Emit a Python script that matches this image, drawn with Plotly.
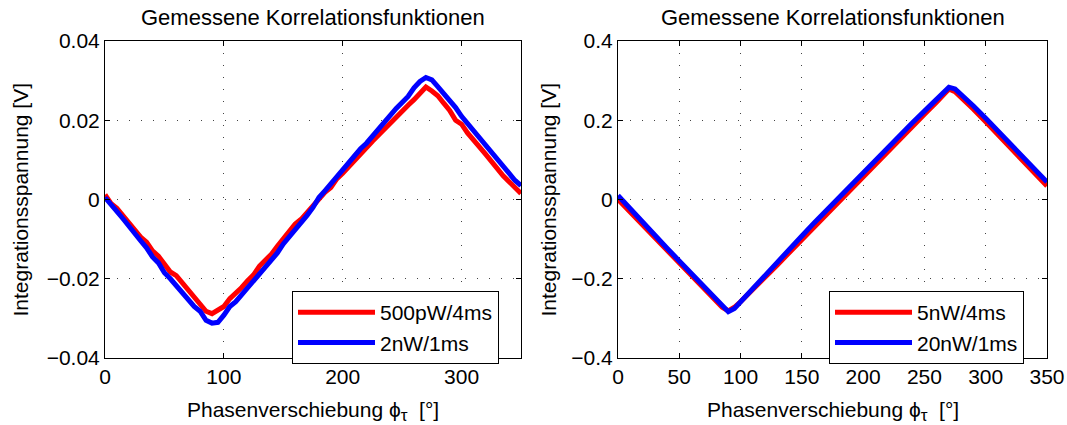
import plotly.graph_objects as go

# ---------------- data ----------------
phase_left = list(range(0, 351, 5))
red_left = [0.0012, -0.0010, -0.0022, -0.0040, -0.0058, -0.0074, -0.0095, -0.0108, -0.0130, -0.0143,
            -0.0165, -0.0183, -0.0192, -0.0210, -0.0232, -0.0247, -0.0264, -0.0282, -0.0288, -0.0280,
            -0.0270, -0.0250, -0.0238, -0.0222, -0.0205, -0.0190, -0.0168, -0.0155, -0.0138, -0.0118,
            -0.0100, -0.0082, -0.0062, -0.0050, -0.0033, -0.0015, 0.0000, 0.0018, 0.0030, 0.0052,
            0.0066, 0.0083, 0.0098, 0.0115, 0.0130, 0.0147, 0.0162, 0.0178, 0.0192, 0.0207,
            0.0222, 0.0238, 0.0252, 0.0268, 0.0284, 0.0274, 0.0262, 0.0243, 0.0225, 0.0200,
            0.0190, 0.0168, 0.0152, 0.0133, 0.0115, 0.0095, 0.0080, 0.0060, 0.0045, 0.0028,
            0.0015]
blue_left = [0.0005, -0.0015, -0.0030, -0.0048, -0.0068, -0.0087, -0.0104, -0.0122, -0.0145, -0.0160,
             -0.0185, -0.0200, -0.0218, -0.0236, -0.0255, -0.0270, -0.0282, -0.0305, -0.0312, -0.0310,
             -0.0292, -0.0270, -0.0258, -0.0240, -0.0222, -0.0205, -0.0188, -0.0172, -0.0150, -0.0135,
             -0.0112, -0.0095, -0.0075, -0.0058, -0.0040, -0.0020, 0.0005, 0.0022, 0.0040, 0.0058,
             0.0074, 0.0092, 0.0108, 0.0128, 0.0142, 0.0160, 0.0178, 0.0195, 0.0212, 0.0230,
             0.0245, 0.0260, 0.0282, 0.0298, 0.0308, 0.0302, 0.0285, 0.0268, 0.0248, 0.0232,
             0.0210, 0.0192, 0.0175, 0.0155, 0.0140, 0.0118, 0.0102, 0.0085, 0.0065, 0.0048,
             0.0035]

phase_right = [0, 10, 20, 30, 40, 50, 60, 70, 80, 85, 90, 95, 100, 110, 120, 130, 140, 150, 160, 170,
               180, 190, 200, 210, 220, 230, 240, 250, 260, 265, 270, 275, 280, 290, 300, 310, 320,
               330, 340, 350]
red_right = [0.000, -0.032, -0.064, -0.097, -0.129, -0.161, -0.193, -0.225, -0.256, -0.272, -0.281,
             -0.272, -0.258, -0.228, -0.197, -0.165, -0.133, -0.101, -0.069, -0.037, -0.006, 0.026,
             0.057, 0.089, 0.121, 0.152, 0.184, 0.215, 0.246, 0.262, 0.279, 0.272, 0.258, 0.228,
             0.196, 0.164, 0.132, 0.100, 0.067, 0.034]
blue_right = [0.010, -0.024, -0.057, -0.090, -0.123, -0.155, -0.188, -0.221, -0.254, -0.271, -0.283,
              -0.275, -0.258, -0.224, -0.191, -0.158, -0.125, -0.092, -0.059, -0.027, 0.005, 0.037,
              0.069, 0.100, 0.131, 0.162, 0.193, 0.223, 0.253, 0.268, 0.283, 0.279, 0.266, 0.236,
              0.205, 0.173, 0.141, 0.109, 0.077, 0.044]

names_left = ["500pW/4ms", "2nW/1ms"]
names_right = ["5nW/4ms", "20nW/1ms"]
title_text = "Gemessene Korrelationsfunktionen"
xlabel = "Phasenverschiebung ϕ<sub><span style='font-size:17px'>τ</span></sub>  [°]"
ylabel = "Integrationsspannung [V]"
x_ticks_left = [0, 100, 200, 300]
x_ticks_right = [0, 50, 100, 150, 200, 250, 300, 350]

# ---------------- figure ----------------
W, H = 1067, 425
FONT = "Liberation Sans, Arial, Helvetica, sans-serif"
FS = 21
RED = "#ff0000"
BLUE = "#0000ff"

fig = go.Figure()
fig.add_trace(go.Scatter(x=phase_left, y=red_left, name=names_left[0], mode="lines",
                         line=dict(color=RED, width=5), xaxis="x", yaxis="y", legend="legend"))
fig.add_trace(go.Scatter(x=phase_left, y=blue_left, name=names_left[1], mode="lines",
                         line=dict(color=BLUE, width=5), xaxis="x", yaxis="y", legend="legend"))
fig.add_trace(go.Scatter(x=phase_right, y=red_right, name=names_right[0], mode="lines",
                         line=dict(color=RED, width=5), xaxis="x2", yaxis="y2", legend="legend2"))
fig.add_trace(go.Scatter(x=phase_right, y=blue_right, name=names_right[1], mode="lines",
                         line=dict(color=BLUE, width=5), xaxis="x2", yaxis="y2", legend="legend2"))

ax_common = dict(showline=True, linecolor="black", linewidth=1, mirror="ticks",
                 ticks="inside", ticklen=5, tickcolor="black", tickwidth=1,
                 showgrid=True, gridcolor="#444444", gridwidth=1, griddash="1px,11px",
                 zeroline=False, automargin=False,
                 tickfont=dict(family=FONT, size=FS, color="black"))

xl = (105 / W, 521 / W)
xr = (618 / W, 1047 / W)
yd = (1 - 358 / H, 1 - 41 / H)

legend_common = dict(xanchor="left", yanchor="top",
                     bgcolor="white", bordercolor="black", borderwidth=1,
                     font=dict(family=FONT, size=FS, color="black"), itemwidth=77,
                     tracegroupgap=0)

fig.update_layout(
    width=W, height=H,
    margin=dict(l=0, r=0, t=0, b=0),
    paper_bgcolor="white", plot_bgcolor="white",
    font=dict(family=FONT, size=FS, color="black"),
    showlegend=True,
    xaxis=dict(domain=list(xl), range=[0, 350], tickvals=x_ticks_left, anchor="y", **ax_common),
    yaxis=dict(domain=list(yd), range=[-0.04, 0.04], dtick=0.02, anchor="x", **ax_common),
    xaxis2=dict(domain=list(xr), range=[0, 350], tickvals=x_ticks_right, anchor="y2", **ax_common),
    yaxis2=dict(domain=list(yd), range=[-0.4, 0.4], dtick=0.2, anchor="x2", **ax_common),
    legend=dict(x=292 / W, y=1 - 291 / H, **legend_common),
    legend2=dict(x=829 / W, y=1 - 291 / H, **legend_common),
)

annots = []
for (x0, x1) in (xl, xr):
    xc = (x0 + x1) / 2
    annots.append(dict(text=title_text, x=xc, y=1 - 17 / H, xref="paper", yref="paper",
                       xanchor="center", yanchor="middle", showarrow=False,
                       font=dict(family=FONT, size=22, color="black")))
    annots.append(dict(text=xlabel, x=xc, y=1 - 411 / H, xref="paper", yref="paper",
                       xanchor="center", yanchor="middle", showarrow=False,
                       font=dict(family=FONT, size=FS, color="black")))
annots.append(dict(text=ylabel, x=20 / W, y=(yd[0] + yd[1]) / 2, xref="paper", yref="paper",
                   xanchor="center", yanchor="middle", textangle=-90, showarrow=False,
                   font=dict(family=FONT, size=FS, color="black")))
annots.append(dict(text=ylabel, x=548 / W, y=(yd[0] + yd[1]) / 2, xref="paper", yref="paper",
                   xanchor="center", yanchor="middle", textangle=-90, showarrow=False,
                   font=dict(family=FONT, size=FS, color="black")))
fig.update_layout(annotations=annots)

fig.write_html("out.html")
